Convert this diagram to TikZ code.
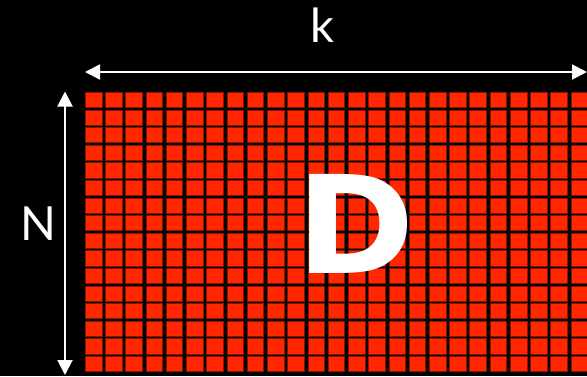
\documentclass[tikz,border=0pt]{standalone}
\usepackage{fontspec}
\setmainfont{Lato}
\newfontfamily\bigfont{DejaVu Sans}
\usepackage{tikz}
\usetikzlibrary{arrows.meta}
\usepackage{xcolor}
\definecolor{cellred}{HTML}{FF2600}
\definecolor{celledge}{HTML}{8A1400}

\begin{document}
\begin{tikzpicture}[
    x=1pt, y=-1pt,
    cell/.style={draw=celledge, fill=cellred, line width=0.6pt, inner sep=0pt,
                 minimum width=16.6pt, minimum height=15.2pt},
    dim/.style={draw=white, line width=2pt, {Triangle[length=15pt,width=15pt]}-{Triangle[length=15pt,width=15pt]}},
    lbl/.style={text=white, inner sep=0pt, font=\fontsize{47}{47}\selectfont}
]
% Background
\fill[black] (0,0) rectangle (587,376);
\useasboundingbox (0,0) rectangle (587,376);
% Matrix cells
\begin{scope}
\clip (0,0) rectangle (587,376);
\foreach \i in {0,...,24} {
  \foreach \j in {0,...,15} {
    \node[cell] (c-\i-\j) at ({93.5+20.24*\i},{99.8+17.6*\j}) {};
  }
}
\end{scope}
% Dimension arrows
\coordinate (kl) at (85,72);
\coordinate (kr) at (587,72);
\coordinate (nt) at (65,91.5);
\coordinate (nb) at (65,375);
\draw[dim] (kl) -- (kr);
\draw[dim] (nt) -- (nb);
% Labels
\node[lbl] (k) at (322.5,25) {k};
\node[lbl] (N) at (38,224) {N};
\node[text=white, inner sep=0pt, font=\bigfont\bfseries\fontsize{136}{136}\selectfont] (D) at (355.5,223.5) {\scalebox{1.05}[1]{D}};
\end{tikzpicture}
\end{document}
